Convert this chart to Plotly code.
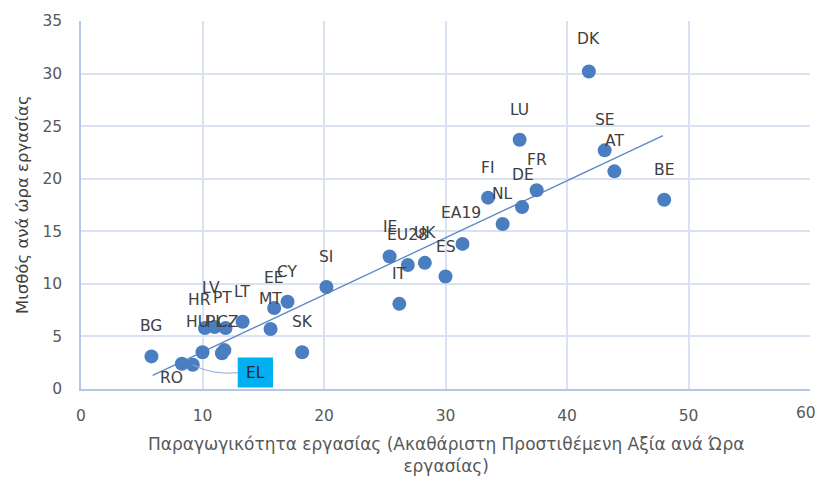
import plotly.graph_objects as go

# Χώρες / αθροίσματα
countries = ["BG", "RO", "EL", "HU", "PL", "CZ", "HR", "LV", "PT", "LT",
             "MT", "EE", "CY", "SI", "SK", "IE", "EU28", "UK", "ES", "IT",
             "EA19", "NL", "FI", "DE", "FR", "LU", "DK", "SE", "AT", "BE"]

# Παραγωγικότητα εργασίας (ΑΠΑ ανά ώρα εργασίας)
productivity = [5.8, 8.3, 9.2, 10.0, 11.6, 11.8, 10.2, 11.0, 11.9, 13.3,
                15.6, 15.9, 17.0, 20.2, 18.2, 25.4, 26.9, 28.3, 30.0, 26.2,
                31.4, 34.7, 33.5, 36.3, 37.5, 36.1, 41.8, 43.1, 43.9, 48.0]

# Μισθός ανά ώρα εργασίας
wage = [3.1, 2.4, 2.3, 3.5, 3.4, 3.7, 5.8, 5.9, 5.8, 6.4,
        5.7, 7.7, 8.3, 9.7, 3.5, 12.6, 11.8, 12.0, 10.7, 8.1,
        13.8, 15.7, 18.2, 17.3, 18.9, 23.7, 30.2, 22.7, 20.7, 18.0]

# Γραμμική τάση (άκρα όπως διαβάζονται στο γράφημα)
trend_x = [5.9, 47.9]
trend_y = [1.3, 24.1]

x_ticks = [0, 10, 20, 30, 40, 50, 60]

X_TITLE = "Παραγωγικότητα εργασίας (Ακαθάριστη Προστιθέμενη Αξία ανά Ώρα<br>εργασίας)"
Y_TITLE = "Μισθός ανά ώρα εργασίας"

FONT = "DejaVu Sans, sans-serif"
DOT = "#4A7EC0"
GRID = "#D9E2F1"
TICK_FONT = dict(family=FONT, size=15.5, color="#595959")

# μετατοπίσεις ετικετών σε px (οι περισσότερες: από πάνω)
label_shift = {"RO": (-10, -14), "LV": (-4, 39), "HU": (-5, 30), "PL": (-7, 31),
               "CZ": (3, 28), "HR": (-5, 28), "PT": (-3, 30), "EA19": (-2, 31),
               "DE": (1, 32), "DK": (0, 32)}

fig = go.Figure()
fig.add_trace(go.Scatter(
    x=trend_x, y=trend_y, mode="lines",
    line=dict(color="#5B87C5", width=1.3),
    hoverinfo="skip", showlegend=False,
))
fig.add_trace(go.Scatter(
    x=productivity, y=wage, mode="markers",
    marker=dict(color=DOT, size=14),
    text=countries, showlegend=False,
))

for c, px_, wy in zip(countries, productivity, wage):
    if c == "EL":
        continue
    dx, dy = label_shift.get(c, (0, 30))
    fig.add_annotation(
        x=px_, y=wy, text=c, showarrow=False,
        xshift=dx, yshift=dy,
        font=dict(family=FONT, size=15.5, color="#404040"),
    )

# ετικέτα EL σε πλαίσιο με καμπύλη γραμμή οδηγό
el_i = countries.index("EL")
fig.add_shape(
    type="path",
    path=f"M 13.0,1.55 Q 10.8,1.3 {productivity[el_i]},{wage[el_i]}",
    line=dict(color="#8FAADC", width=1),
)
fig.add_shape(
    type="rect", x0=12.9, x1=15.8, y0=0.15, y1=3.0,
    fillcolor="#00B0F0", line=dict(width=0),
)
fig.add_annotation(
    x=14.35, y=1.55, text="EL", showarrow=False,
    font=dict(family=FONT, size=15.5, color="#262626"),
)

# η τελευταία ετικέτα του άξονα x μετακινείται λίγο αριστερά ώστε να χωράει
fig.add_annotation(
    x=x_ticks[-1], y=0, xref="x", yref="paper", text=str(x_ticks[-1]),
    showarrow=False, xanchor="right", yanchor="middle",
    xshift=8, yshift=-24, font=TICK_FONT,
)

# τίτλοι αξόνων
fig.add_annotation(
    x=0.5, y=0, xref="paper", yref="paper", text=X_TITLE,
    showarrow=False, yanchor="middle", yshift=-66,
    font=dict(family=FONT, size=17, color="#595959"),
)
fig.add_annotation(
    x=0, y=0.5, xref="paper", yref="paper", text=Y_TITLE,
    showarrow=False, textangle=-90, xanchor="center", xshift=-59,
    font=dict(family=FONT, size=16.5, color="#404040"),
)

# η σελίδα έχει περιθώριο 8px, οπότε το σχήμα μικραίνει αντίστοιχα
fig.update_layout(
    width=815, height=470,
    margin=dict(l=73, r=13, t=13, b=89),
    plot_bgcolor="white", paper_bgcolor="white",
    font=dict(family=FONT, color="#595959", size=15),
)
fig.update_xaxes(
    range=[0, 60], tickvals=x_ticks,
    ticktext=[str(v) for v in x_ticks[:-1]] + [""],
    showgrid=True, gridcolor=GRID, gridwidth=1.5,
    zeroline=False, showline=True, linecolor="#B4C7E7", linewidth=1.5,
    ticks="", ticklabelstandoff=12, automargin=False,
    tickfont=TICK_FONT,
)
fig.update_yaxes(
    range=[0, 35], dtick=5, showgrid=True, gridcolor=GRID, gridwidth=1.5,
    zeroline=False, showline=True, linecolor="#B4C7E7", linewidth=1.5,
    ticks="", ticklabelstandoff=14, automargin=False,
    tickfont=TICK_FONT,
)

fig.write_html("out.html")
